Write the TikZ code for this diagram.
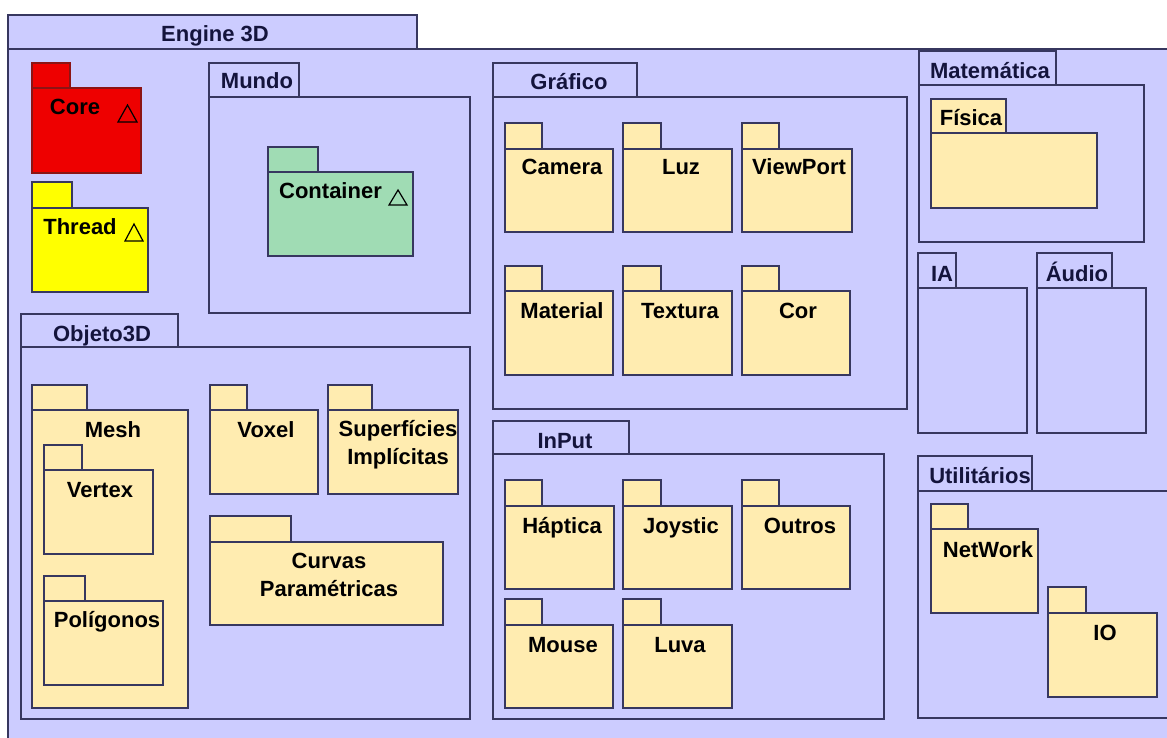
\documentclass[tikz,border=0pt]{standalone}
\usepackage{fontspec}
\setmainfont{Liberation Sans}
\usetikzlibrary{positioning}

\definecolor{engbg}{RGB}{204,204,255}
\definecolor{pkgyellow}{RGB}{255,236,176}
\definecolor{pkgline}{RGB}{55,55,95}
\definecolor{corered}{RGB}{238,0,0}
\definecolor{coreline}{RGB}{140,20,20}
\definecolor{threadyellow}{RGB}{255,255,0}
\definecolor{contgreen}{RGB}{160,220,180}
\definecolor{titlenavy}{RGB}{20,20,60}

% package = tab + body: style, left, tab top, tab right, body top, right, bottom
\newcommand{\pkgshape}[7]{%
  \draw[#1] (#2,#3) rectangle (#4,#5);
  \draw[#1] (#2,#5) rectangle (#6,#7);}

\begin{document}
\begin{tikzpicture}[
  x=1pt, y=-1pt,
  line width=1.3pt,
  container/.style={draw=pkgline,fill=engbg},
  leafpkg/.style={draw=pkgline,fill=pkgyellow},
  corepkg/.style={draw=coreline,fill=corered},
  threadpkg/.style={draw=pkgline,fill=threadyellow},
  contpkg/.style={draw=pkgline,fill=contgreen},
  pkgname/.style={anchor=base,inner sep=0pt,align=center,
    font=\fontsize{22}{27.5}\selectfont\bfseries},
  title/.style={pkgname,text=titlenavy},
  trimark/.style={draw=black,line width=1.2pt,line join=miter}
]
\clip (0,0) rectangle (1167,738);
\fill[white] (0,0) rectangle (1167,738);

% outer package
\pkgshape{container}{8}{15}{417}{49}{1180}{750}
\node[title] (engine) at (215,42) {Engine 3D};

% Core, Thread, Mundo
\pkgshape{corepkg}{32}{63}{70}{88}{141}{173}
\pkgshape{threadpkg}{32}{182}{72}{208}{148}{292}
\pkgshape{container}{209}{63}{299}{97}{470}{313}
\pkgshape{contpkg}{268}{147}{318}{172}{413}{256}
\node[pkgname] (core) at (75,115) {Core};
\node[pkgname] (thread) at (80,234) {Thread};
\node[title] (mundo) at (257,89) {Mundo};
\node[pkgname] (container) at (330.5,199) {Container};
\draw[trimark] (118,122) -- (137,122) -- (127.5,105) -- cycle;
\draw[trimark] (125,241) -- (143,241) -- (134,224) -- cycle;
\draw[trimark] (389,205) -- (407,205) -- (398,190) -- cycle;

% Objeto3D
\pkgshape{container}{21}{314}{178}{347}{470}{719}
\pkgshape{leafpkg}{32}{385}{87}{410}{188}{708}
\pkgshape{leafpkg}{44}{445}{82}{470}{153}{554}
\pkgshape{leafpkg}{44}{576}{85}{601}{163}{685}
\pkgshape{leafpkg}{210}{385}{247}{410}{318}{494}
\pkgshape{leafpkg}{328}{385}{372}{410}{458}{494}
\pkgshape{leafpkg}{210}{516}{291}{542}{443}{625}
\node[title] (objeto) at (102,341) {Objeto3D};
\node[pkgname] (mesh) at (113,437) {Mesh};
\node[pkgname] (vertex) at (100,497) {Vertex};
\node[pkgname] (poligonos) at (107,627) {Polígonos};
\node[pkgname] (voxel) at (266,437) {Voxel};
% two-line names: base is the last line
\node[pkgname] (superficies) at (398,464) {Superfícies\\Implícitas};
\node[pkgname] (curvas) at (329,596) {Curvas\\Paramétricas};

% Grafico
\pkgshape{container}{493}{63}{637}{97}{907}{409}
\pkgshape{leafpkg}{505}{123}{542}{149}{613}{232}
\pkgshape{leafpkg}{623}{123}{661}{149}{732}{232}
\pkgshape{leafpkg}{742}{123}{779}{149}{852}{232}
\pkgshape{leafpkg}{505}{266}{542}{291}{613}{375}
\pkgshape{leafpkg}{623}{266}{661}{291}{732}{375}
\pkgshape{leafpkg}{742}{266}{779}{291}{850}{375}
\node[title] (grafico) at (569,90) {Gráfico};
\node[pkgname] (camera) at (562,175) {Camera};
\node[pkgname] (luz) at (681,175) {Luz};
\node[pkgname] (viewport) at (799,175) {ViewPort};
\node[pkgname] (material) at (562,318) {Material};
\node[pkgname] (textura) at (680,318) {Textura};
\node[pkgname] (cor) at (798,318) {Cor};

% InPut
\pkgshape{container}{493}{421}{629}{454}{884}{719}
\pkgshape{leafpkg}{505}{480}{542}{506}{614}{589}
\pkgshape{leafpkg}{623}{480}{661}{506}{732}{589}
\pkgshape{leafpkg}{742}{480}{779}{506}{850}{589}
\pkgshape{leafpkg}{505}{599}{542}{625}{613}{708}
\pkgshape{leafpkg}{623}{599}{661}{625}{732}{708}
\node[title] (input) at (565,448) {InPut};
\node[pkgname] (haptica) at (562,533) {Háptica};
\node[pkgname] (joystic) at (681,533) {Joystic};
\node[pkgname] (outros) at (800,533) {Outros};
\node[pkgname] (mouse) at (563,652) {Mouse};
\node[pkgname] (luva) at (680,652) {Luva};

% right column
\pkgshape{container}{919}{51}{1056}{85}{1144}{242}
\pkgshape{leafpkg}{931}{99}{1006}{133}{1097}{208}
\pkgshape{container}{918}{253}{956}{288}{1027}{433}
\pkgshape{container}{1037}{253}{1112}{288}{1146}{433}
\pkgshape{container}{918}{456}{1032}{491}{1180}{718}
\pkgshape{leafpkg}{931}{504}{968}{529}{1038}{613}
\pkgshape{leafpkg}{1048}{587}{1086}{613}{1157}{697}
\node[title] (matematica) at (990,79) {Matemática};
\node[pkgname] (fisica) at (971,126) {Física};
\node[title] (ia) at (942,281) {IA};
\node[title] (audio) at (1077,281) {Áudio};
\node[title] (utilitarios) at (980,483) {Utilitários};
\node[pkgname] (network) at (988,557) {NetWork};
\node[pkgname] (io) at (1105,640) {IO};
\end{tikzpicture}
\end{document}
